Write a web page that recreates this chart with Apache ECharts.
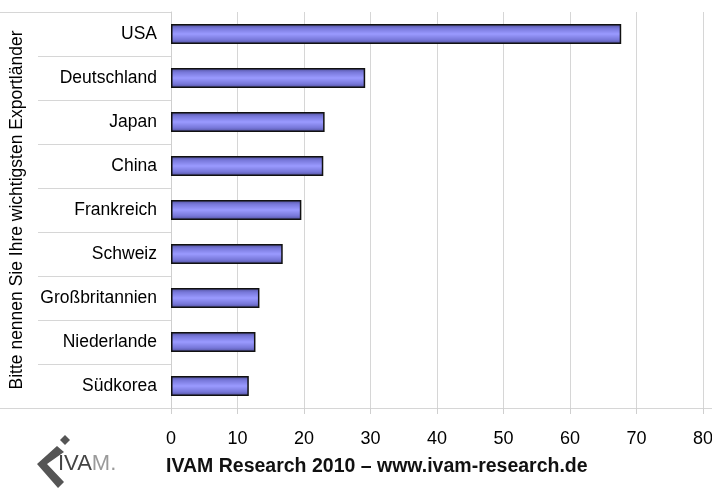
<!DOCTYPE html>
<html><head><meta charset="utf-8">
<script src="https://cdn.jsdelivr.net/npm/echarts@6/dist/echarts.min.js"></script>
<style>html,body{margin:0;padding:0;background:#fff}#c{width:712px;height:489px}</style>
</head><body><div id="c"></div>
<script>
const categories = ['USA','Deutschland','Japan','China','Frankreich','Schweiz','Großbritannien','Niederlande','Südkorea'];
const values = [67.7, 29.2, 23.1, 22.9, 19.6, 16.8, 13.3, 12.7, 11.7];
const xTicks = {min: 0, max: 80, interval: 10};
const axisTitle = 'Bitte nennen Sie Ihre wichtigsten Exportländer';
const footer = 'IVAM Research 2010 – www.ivam-research.de';

const chart = echarts.init(document.getElementById('c'));
const font = '"Liberation Sans", Arial, sans-serif';
chart.setOption({
  animation: false,
  textStyle: {fontFamily: font},
  grid: {left: 171, right: 9, top: 12, bottom: 81, containLabel: false, outerBoundsMode: 'none'},
  xAxis: {
    type: 'value', min: xTicks.min, max: xTicks.max, interval: xTicks.interval,
    axisLine: {show: false},
    axisTick: {show: true, length: 6, lineStyle: {color: '#cfcfcf'}},
    splitLine: {show: true, lineStyle: {color: '#d6d6d6', width: 1}},
    axisLabel: {fontSize: 18, color: '#000', margin: 22, fontFamily: font}
  },
  yAxis: {
    type: 'category', data: categories, inverse: true,
    axisLine: {show: true, lineStyle: {color: '#cfcfcf'}},
    axisTick: {show: true, length: 133, lineStyle: {color: '#d6d6d6'}},
    axisLabel: {fontSize: 17.5, color: '#000', margin: 14, fontFamily: font},
    name: axisTitle, nameLocation: 'middle', nameRotate: 90, nameGap: 145,
    nameTextStyle: {fontSize: 17.5, color: '#000', fontFamily: font}
  },
  series: [{
    type: 'bar', data: values, barWidth: 20,
    itemStyle: {
      color: new echarts.graphic.LinearGradient(0, 0, 0, 1, [
        {offset: 0, color: '#4a4a90'},
        {offset: 0.2, color: '#7676d8'},
        {offset: 0.5, color: '#9a9aff'},
        {offset: 0.8, color: '#7676d8'},
        {offset: 1, color: '#4a4a90'}
      ]),
      borderColor: '#111', borderWidth: 1.5
    }
  }],
  graphic: [
    {type: 'line', shape: {x1: 0, y1: 12.5, x2: 171, y2: 12.5}, style: {stroke: '#d6d6d6', lineWidth: 1}},
    {type: 'line', shape: {x1: 0, y1: 408.5, x2: 712, y2: 408.5}, style: {stroke: '#d6d6d6', lineWidth: 1}},
    {type: 'text', left: 166, top: 457, style: {text: footer, font: 'bold 19.5px ' + font, fill: '#111'}},
    // logo
    {type: 'polygon', shape: {points: [[57,446],[64,452],[47,464],[64,482],[58,488],[37,464]]}, style: {fill: '#555555'}},
    {type: 'polygon', shape: {points: [[65,435],[70,440],[65,445],[60,440]]}, style: {fill: '#555555'}},
    {type: 'text', left: 58, top: 453, style: {rich: {a: {font: '22px ' + font, fill: '#444444'}, b: {font: '22px ' + font, fill: '#9a9a9a'}}, text: '{a|IVA}{b|M.}'}}
  ]
});
</script></body></html>
